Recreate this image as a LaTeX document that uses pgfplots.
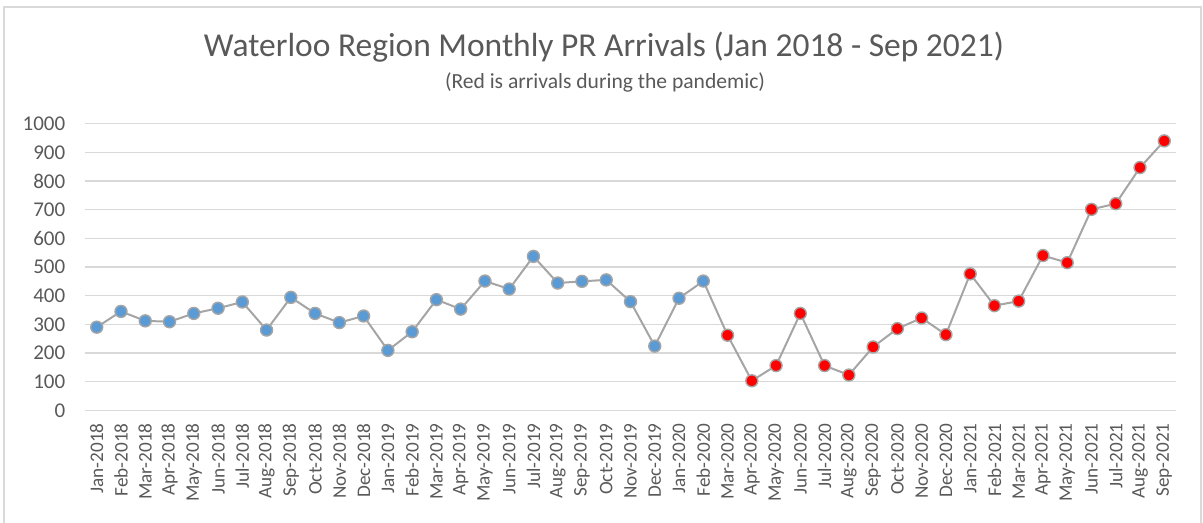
\documentclass[border=0pt]{standalone}
\usepackage{pgfplots}
\pgfplotsset{compat=1.18}
\usepackage{pgfplotstable}
\usepackage{fontspec}
\setmainfont{Carlito}
\definecolor{txtgray}{RGB}{89,89,89}
\definecolor{gridgray}{RGB}{217,217,217}
\definecolor{linegray}{RGB}{165,165,165}
\definecolor{markblue}{RGB}{91,155,213}
\definecolor{markred}{RGB}{255,0,0}
\pgfplotstableread{
x y c
0 290 b
1 345 b
2 312 b
3 309 b
4 338 b
5 356 b
6 378 b
7 280 b
8 394 b
9 338 b
10 306 b
11 329 b
12 209 b
13 274 b
14 386 b
15 353 b
16 451 b
17 423 b
18 537 b
19 444 b
20 450 b
21 455 b
22 379 b
23 224 b
24 391 b
25 451 b
26 262 r
27 103 r
28 156 r
29 338 r
30 156 r
31 123 r
32 221 r
33 285 r
34 322 r
35 264 r
36 476 r
37 365 r
38 381 r
39 540 r
40 515 r
41 701 r
42 721 r
43 847 r
44 940 r
}\arrivals
\begin{document}
\begin{tikzpicture}
\useasboundingbox (0,0) rectangle (601.5pt,261.5pt);
\draw[gridgray, line width=0.6pt] (2pt,-5pt) rectangle (600.5pt,258pt);
\node[text=txtgray, inner sep=0pt] at (302pt,238pt) {\resizebox{400pt}{!}{Waterloo Region Monthly PR Arrivals (Jan 2018 - Sep 2021)}};
\node[text=txtgray, inner sep=0pt] at (302.5pt,220.5pt) {\resizebox{160pt}{!}{(Red is arrivals during the pandemic)}};
\begin{axis}[
  at={(42.3pt,56.35pt)}, anchor=south west,
  scale only axis, width=545.9pt, height=143.3pt,
  xmin=-0.5, xmax=44.5, ymin=0, ymax=1000,
  ytick distance=100,
  xtick={0,...,44},
  xticklabels={Jan-2018,Feb-2018,Mar-2018,Apr-2018,May-2018,Jun-2018,Jul-2018,Aug-2018,Sep-2018,Oct-2018,Nov-2018,Dec-2018,Jan-2019,Feb-2019,Mar-2019,Apr-2019,May-2019,Jun-2019,Jul-2019,Aug-2019,Sep-2019,Oct-2019,Nov-2019,Dec-2019,Jan-2020,Feb-2020,Mar-2020,Apr-2020,May-2020,Jun-2020,Jul-2020,Aug-2020,Sep-2020,Oct-2020,Nov-2020,Dec-2020,Jan-2021,Feb-2021,Mar-2021,Apr-2021,May-2021,Jun-2021,Jul-2021,Aug-2021,Sep-2021},
  axis line style={draw=none},
  axis x line*=bottom,
  major tick length=0pt,
  ymajorgrids, grid style={gridgray, line width=0.75pt},
  /pgf/number format/assume math mode=true,
  /pgf/number format/1000 sep={},
  yticklabel style={font=\fontsize{10.5}{12}\selectfont, text=txtgray, inner sep=0pt, anchor=east, xshift=-9.5pt},
  xticklabel style={font=\fontsize{9.6}{11}\selectfont, text=txtgray, inner sep=0pt, rotate=90, anchor=east},
  xticklabel shift=6.3pt,
  clip=false,
]
\addplot[draw=linegray, line width=1pt, no markers] table[x=x, y=y] {\arrivals};
\addplot[
  only marks,
  scatter,
  scatter src=explicit symbolic,
  scatter/classes={
    b={mark=*, mark size=3pt, draw=linegray, fill=markblue, line width=0.7pt},
    r={mark=*, mark size=3pt, draw=linegray, fill=markred, line width=0.7pt}},
] table[x=x, y=y, meta=c] {\arrivals};
\end{axis}
\end{tikzpicture}
\end{document}
